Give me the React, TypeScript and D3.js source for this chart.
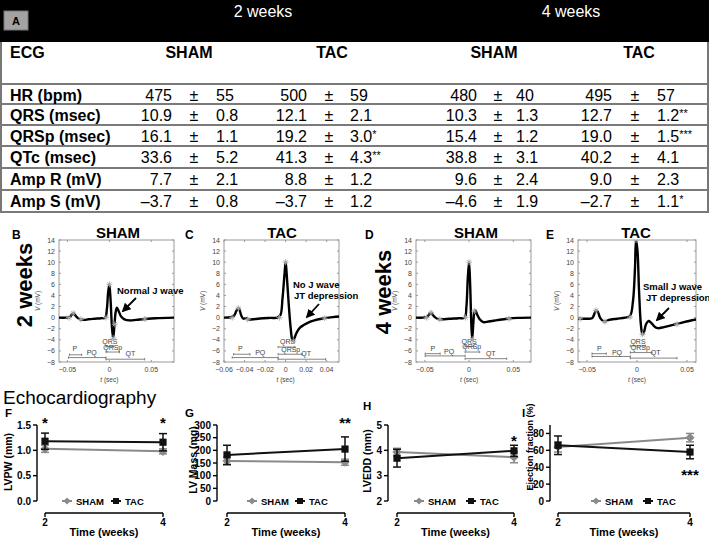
import React from 'react';
import * as d3 from 'd3';

const FONT = "Arial, 'Liberation Sans', Helvetica, sans-serif";

// ---------------- Table data ----------------
const rowLabels = ['HR (bpm)', 'QRS (msec)', 'QRSp (msec)', 'QTc (msec)', 'Amp R (mV)', 'Amp S (mV)'];
const rowDecimals = [0, 1, 1, 1, 1, 1];
const groupLabels = ['SHAM', 'TAC', 'SHAM', 'TAC'];
const weekLabels = ['2 weeks', '4 weeks'];
const sham2Mean = [475, 10.9, 16.1, 33.6, 7.7, -3.7];
const sham2Sd = [55, 0.8, 1.1, 5.2, 2.1, 0.8];
const sham2Sig = ['', '', '', '', '', ''];
const tac2Mean = [500, 12.1, 19.2, 41.3, 8.8, -3.7];
const tac2Sd = [59, 2.1, 3.0, 4.3, 1.2, 1.2];
const tac2Sig = ['', '', '*', '**', '', ''];
const sham4Mean = [480, 10.3, 15.4, 38.8, 9.6, -4.6];
const sham4Sd = [40, 1.3, 1.2, 3.1, 2.4, 1.9];
const sham4Sig = ['', '', '', '', '', ''];
const tac4Mean = [495, 12.7, 19.0, 40.2, 9.0, -2.7];
const tac4Sd = [57, 1.2, 1.5, 4.1, 2.3, 1.1];
const tac4Sig = ['', '**', '***', '', '', '*'];

// ---------------- ECG traces [t (sec), V (mV)] ----------------
type Pt = [number, number];
const ecgSham2: Pt[] = [
  [-0.060, 0.0], [-0.052, 0.0], [-0.047, 0.1], [-0.045, 0.5], [-0.043, 0.8], [-0.041, 0.5], [-0.038, 0.0],
  [-0.035, -0.3], [-0.030, -0.4], [-0.025, -0.3], [-0.018, -0.2], [-0.010, -0.1], [-0.005, 0.0],
  [-0.003, 1.5], [-0.0015, 4.5], [0.0, 6.0], [0.0015, 3.0], [0.003, -1.5], [0.0045, -3.7], [0.006, -1.5],
  [0.0075, 1.0], [0.009, 1.8], [0.011, 1.2], [0.014, 0.2], [0.018, -0.3], [0.024, -0.5], [0.032, -0.4],
  [0.042, -0.25], [0.055, -0.1], [0.077, 0.0],
];
const ecgTac2: Pt[] = [
  [-0.060, 0.0], [-0.053, 0.1], [-0.050, 0.4], [-0.048, 1.2], [-0.046, 1.7], [-0.045, 1.5], [-0.043, 0.3],
  [-0.041, -0.2], [-0.038, -0.1], [-0.036, -0.35], [-0.032, -0.3], [-0.025, -0.15], [-0.015, -0.05],
  [-0.008, 0.0], [-0.005, 0.5], [-0.003, 3.5], [-0.001, 8.0], [0.0, 10.0], [0.001, 8.0], [0.003, 2.5],
  [0.005, -2.0], [0.0065, -4.0], [0.0075, -4.2], [0.009, -3.5], [0.011, -2.6], [0.014, -1.8],
  [0.018, -1.3], [0.022, -0.9], [0.028, -0.5], [0.035, -0.2], [0.042, 0.0], [0.052, 0.2],
];
const ecgSham4: Pt[] = [
  [-0.060, 0.0], [-0.052, 0.0], [-0.047, 0.2], [-0.045, 0.6], [-0.043, 0.9], [-0.041, 0.5], [-0.038, 0.0],
  [-0.034, -0.3], [-0.030, -0.3], [-0.022, -0.2], [-0.012, -0.1], [-0.005, 0.0], [-0.003, 2.0],
  [-0.0015, 7.0], [0.0, 10.0], [0.0012, 6.0], [0.0025, -1.0], [0.0035, -3.9], [0.0048, -1.0],
  [0.006, 1.0], [0.0072, 1.3], [0.009, 0.6], [0.012, -0.3], [0.016, -0.8], [0.022, -0.7],
  [0.032, -0.45], [0.043, -0.2], [0.055, -0.05], [0.070, 0.0],
];
const ecgTac4: Pt[] = [
  [-0.060, -0.2], [-0.050, -0.2], [-0.045, -0.1], [-0.043, 0.5], [-0.041, 1.3], [-0.039, 1.0],
  [-0.037, 0.0], [-0.034, -0.6], [-0.032, -0.7], [-0.028, -0.4], [-0.020, -0.2], [-0.012, 0.0],
  [-0.007, 0.3], [-0.004, 3.0], [-0.002, 9.0], [-0.001, 14.0], [0.0005, 12.0], [0.002, 5.0],
  [0.004, -1.5], [0.0055, -3.0], [0.007, -2.6], [0.009, -1.2], [0.0115, -0.6], [0.014, -0.9],
  [0.018, -1.7], [0.021, -1.9], [0.027, -1.7], [0.034, -1.4], [0.043, -1.0], [0.052, -0.6], [0.060, -0.3],
];
const marksSham2: Pt[] = [[-0.048, 0], [-0.043, 0.8], [-0.034, -0.3], [-0.004, 0], [0, 6], [0.0045, -3.7], [0.0065, -1.2], [0.042, -0.25]];
const marksTac2: Pt[] = [[-0.052, 0], [-0.046, 1.7], [-0.037, -0.3], [-0.006, 0], [0, 10], [0.0075, -4.2], [0.038, -0.1]];
const marksSham4: Pt[] = [[-0.048, 0], [-0.043, 0.9], [-0.033, -0.3], [-0.004, 0], [0, 10], [0.0035, -3.9], [0.006, 1.2], [0.045, -0.2]];
const marksTac4: Pt[] = [[-0.057, -0.2], [-0.041, 1.3], [-0.032, -0.7], [-0.007, 0.1], [-0.001, 14], [0.0055, -3], [0.04, -1.2]];

type Ann = { label: string; t0: number; t1: number; v: number; lt: number; lv: number };
const annSham2: Ann[] = [
  { label: 'P', t0: -0.0476, t1: -0.033, v: -6.7, lt: -0.041, lv: -6.1 },
  { label: 'PQ', t0: -0.0488, t1: -0.004, v: -7.2, lt: -0.021, lv: -6.8 },
  { label: 'QRS', t0: -0.004, t1: 0.005, v: -5.2, lt: 0.0005, lv: -4.8 },
  { label: 'QRSp', t0: -0.004, t1: 0.012, v: -6.2, lt: 0.004, lv: -5.8 },
  { label: 'QT', t0: -0.004, t1: 0.042, v: -7.5, lt: 0.025, lv: -6.9 },
];
const annTac2: Ann[] = [
  { label: 'P', t0: -0.0507, t1: -0.0347, v: -6.6, lt: -0.044, lv: -6.1 },
  { label: 'PQ', t0: -0.052, t1: -0.0073, v: -7.2, lt: -0.0247, lv: -6.8 },
  { label: 'QRS', t0: -0.0073, t1: 0.009, v: -5.3, lt: 0.002, lv: -4.8 },
  { label: 'QRSp', t0: -0.0073, t1: 0.016, v: -6.6, lt: 0.005, lv: -6.2 },
  { label: 'QT', t0: -0.0073, t1: 0.039, v: -7.5, lt: 0.02, lv: -7.0 },
];
const annSham4: Ann[] = [
  { label: 'P', t0: -0.0496, t1: -0.0327, v: -6.5, lt: -0.041, lv: -6.0 },
  { label: 'PQ', t0: -0.0496, t1: -0.0045, v: -6.9, lt: -0.0226, lv: -6.6 },
  { label: 'QRS', t0: -0.0045, t1: 0.005, v: -5.2, lt: 0.0, lv: -4.7 },
  { label: 'QRSp', t0: -0.0045, t1: 0.012, v: -6.2, lt: 0.003, lv: -5.7 },
  { label: 'QT', t0: -0.0045, t1: 0.0425, v: -7.4, lt: 0.0245, lv: -6.9 },
];
const annTac4: Ann[] = [
  { label: 'P', t0: -0.045, t1: -0.0307, v: -6.5, lt: -0.0377, lv: -6.0 },
  { label: 'PQ', t0: -0.045, t1: -0.0067, v: -7.0, lt: -0.02, lv: -6.7 },
  { label: 'QRS', t0: -0.0067, t1: 0.0083, v: -5.1, lt: 0.001, lv: -4.7 },
  { label: 'QRSp', t0: -0.0067, t1: 0.015, v: -6.3, lt: 0.0033, lv: -5.8 },
  { label: 'QT', t0: -0.0067, t1: 0.04, v: -7.3, lt: 0.0187, lv: -6.8 },
];
const ecgYTicks = [-8, -6, -4, -2, 0, 2, 4, 6, 8, 10, 12, 14];

// ---------------- Echocardiography data ----------------
const weeks = [2, 4];
const lvpwSham = [1.03, 0.98];
const lvpwShamErr = [0.07, 0.05];
const lvpwTac = [1.18, 1.16];
const lvpwTacErr = [0.16, 0.17];
const lvMassSham = [158, 153];
const lvMassShamErr = [15, 12];
const lvMassTac = [182, 205];
const lvMassTacErr = [38, 48];
const lveddSham = [3.93, 3.73];
const lveddShamErr = [0.15, 0.22];
const lveddTac = [3.69, 3.98];
const lveddTacErr = [0.35, 0.22];
const efSham = [64, 75];
const efShamErr = [6, 5];
const efTac = [66, 58];
const efTacErr = [11, 8];

const GRAY = '#8a8a8a';
const BLACK = '#111';

// ---------------- Components ----------------
function Table() {
  const groups = [
    { mean: sham2Mean, sd: sham2Sd, sig: sham2Sig, end: 172, pm: 194, sdx: 216, hx: 189 },
    { mean: tac2Mean, sd: tac2Sd, sig: tac2Sig, end: 307, pm: 329, sdx: 350, hx: 332 },
    { mean: sham4Mean, sd: sham4Sd, sig: sham4Sig, end: 477, pm: 498, sdx: 516, hx: 494 },
    { mean: tac4Mean, sd: tac4Sd, sig: tac4Sig, end: 612, pm: 635, sdx: 657, hx: 639 },
  ];
  const lines = [84, 104, 125, 146, 168, 190, 212];
  const fmt = (v: number, d: number) => (v < 0 ? '–' : '') + Math.abs(v).toFixed(d);
  return (
    <g fontFamily={FONT}>
      <rect x={0} y={0} width={709} height={42} fill="#000" />
      <rect x={4} y={11} width={24} height={19} fill="#a3a3a3" stroke="#777" strokeWidth={1} />
      <text x={16} y={25} fontSize={11} fontWeight="bold" textAnchor="middle">A</text>
      <text x={263} y={17} fontSize={16} fill="#fff" textAnchor="middle">{weekLabels[0]}</text>
      <text x={571} y={17} fontSize={16} fill="#fff" textAnchor="middle">{weekLabels[1]}</text>
      <line x1={1} x2={1} y1={42} y2={213} stroke="#777" strokeWidth={2} />
      <line x1={708} x2={708} y1={42} y2={213} stroke="#777" strokeWidth={2} />
      {lines.map((ly, i) => (
        <line key={i} x1={0} x2={709} y1={ly} y2={ly} stroke="#7a7a7a" strokeWidth={2} />
      ))}
      <text x={10} y={58} fontSize={16} fontWeight="bold">ECG</text>
      {groups.map((g, gi) => (
        <text key={gi} x={g.hx} y={58} fontSize={16} fontWeight="bold" textAnchor="middle">{groupLabels[gi]}</text>
      ))}
      {rowLabels.map((lab, ri) => {
        const by = lines[ri] + 16.5;
        return (
          <g key={ri}>
            <text x={10} y={by} fontSize={16} fontWeight="bold">{lab}</text>
            {groups.map((g, gi) => (
              <g key={gi} fontSize={16}>
                <text x={g.end} y={by} textAnchor="end">{fmt(g.mean[ri], rowDecimals[ri])}</text>
                <text x={g.pm} y={by} textAnchor="middle">±</text>
                <text x={g.sdx} y={by}>
                  {fmt(g.sd[ri], rowDecimals[ri])}
                  {g.sig[ri] ? <tspan fontSize={11} dy={-4}>{g.sig[ri]}</tspan> : null}
                </text>
              </g>
            ))}
          </g>
        );
      })}
    </g>
  );
}

type EcgCfg = {
  letter: string; lx: number; title: string; tx: number; x0: number; x1: number;
  dom: [number, number]; ticks: number[]; data: Pt[]; marks: Pt[]; ann: Ann[];
  note?: { lines: { text: string; x: number; y: number }[]; arrow: [number, number, number, number] };
};

function EcgPanel({ c, id }: { c: EcgCfg; id: string }) {
  const top = 240, bottom = 362;
  const x = d3.scaleLinear().domain(c.dom).range([c.x0, c.x1]);
  const y = d3.scaleLinear().domain([-8, 14]).range([bottom, top]);
  const line = d3.line<Pt>().x(d => x(d[0])).y(d => y(d[1])).curve(d3.curveCatmullRom.alpha(0.5));
  const tfmt = (v: number) => (v === 0 ? '0' : (v < 0 ? '−' : '') + Math.abs(v).toFixed(2));
  const star = (px: number, py: number, k: number) => {
    const r = 3;
    return (
      <g key={k} stroke="#aaa" strokeWidth={0.9}>
        <line x1={px - r} x2={px + r} y1={py} y2={py} />
        <line x1={px} x2={px} y1={py - r} y2={py + r} />
        <line x1={px - r * 0.7} x2={px + r * 0.7} y1={py - r * 0.7} y2={py + r * 0.7} />
        <line x1={px - r * 0.7} x2={px + r * 0.7} y1={py + r * 0.7} y2={py - r * 0.7} />
      </g>
    );
  };
  const xc = x(0);
  return (
    <g fontFamily={FONT}>
      <defs>
        <clipPath id={id}><rect x={c.x0} y={top} width={c.x1 - c.x0} height={bottom - top} /></clipPath>
        <marker id={id + 'arr'} viewBox="0 0 10 10" refX={8} refY={5} markerWidth={5} markerHeight={5} orient="auto">
          <path d="M0,0 L10,5 L0,10 z" fill="#000" />
        </marker>
      </defs>
      <text x={c.lx} y={239} fontSize={12} fontWeight="bold">{c.letter}</text>
      <text x={c.tx} y={238} fontSize={15} fontWeight="bold" textAnchor="middle">{c.title}</text>
      <rect x={c.x0} y={top} width={c.x1 - c.x0} height={bottom - top} fill="#fff" stroke="#9a9a9a" strokeWidth={1} />
      {ecgYTicks.map(t => (
        <g key={'y' + t}>
          <line x1={c.x0} x2={c.x0 + 2} y1={y(t)} y2={y(t)} stroke="#9a9a9a" />
          <line x1={c.x1} x2={c.x1 - 2} y1={y(t)} y2={y(t)} stroke="#9a9a9a" />
          <text x={c.x0 - 4} y={y(t) + 2.5} fontSize={7} fill="#444" textAnchor="end">{t < 0 ? '−' + Math.abs(t) : t}</text>
        </g>
      ))}
      {c.ticks.map(t => (
        <g key={'x' + t}>
          <line x1={x(t)} x2={x(t)} y1={bottom} y2={bottom - 2} stroke="#9a9a9a" />
          <line x1={x(t)} x2={x(t)} y1={top} y2={top + 2} stroke="#9a9a9a" />
          <text x={x(t)} y={372} fontSize={7} fill="#444" textAnchor="middle">{tfmt(t)}</text>
        </g>
      ))}
      <text x={xc} y={382} fontSize={6.5} fill="#444" textAnchor="middle"><tspan fontStyle="italic">t</tspan> (sec)</text>
      <text transform={`translate(${c.x0 - 19},${y(3)}) rotate(-90)`} fontSize={6.5} fill="#444" textAnchor="middle">
        <tspan fontStyle="italic">V</tspan> (mV)
      </text>
      {c.ann.map((a, i) => (
        <g key={'a' + i} stroke="#666" strokeWidth={0.8}>
          <line x1={x(a.t0)} x2={x(a.t1)} y1={y(a.v)} y2={y(a.v)} />
          <line x1={x(a.t0)} x2={x(a.t0)} y1={y(a.v) - 1.2} y2={y(a.v) + 1.2} />
          <line x1={x(a.t1)} x2={x(a.t1)} y1={y(a.v) - 1.2} y2={y(a.v) + 1.2} />
          <text x={x(a.lt)} y={y(a.lv)} fontSize={7} fill="#444" stroke="none" textAnchor="middle">{a.label}</text>
        </g>
      ))}
      <g clipPath={`url(#${id})`}>
        <path d={line(c.data) || ''} fill="none" stroke="#000" strokeWidth={2.4} strokeLinejoin="round" />
        {c.marks.map((m, i) => star(x(m[0]), y(m[1]), i))}
      </g>
      {c.note ? (
        <g>
          {c.note.lines.map((l, i) => (
            <text key={i} x={l.x} y={l.y} fontSize={9.5} fontWeight="bold">{l.text}</text>
          ))}
          <line x1={c.note.arrow[0]} y1={c.note.arrow[1]} x2={c.note.arrow[2]} y2={c.note.arrow[3]}
            stroke="#000" strokeWidth={1.8} markerEnd={`url(#${id}arr)`} />
        </g>
      ) : null}
    </g>
  );
}

type EchoCfg = {
  letter: string; lx: number; ly: number; ax: number; x2: number; x4: number;
  yDom: [number, number]; yTicks: number[]; dec: number; ylabel: string; ylx: number; yly: number; ylSize: number;
  sham: number[]; shamErr: number[]; tac: number[]; tacErr: number[];
  stars: { w: number; y: number; text: string }[];
  leg: [number, number];
};

function EchoPanel({ c }: { c: EchoCfg }) {
  const x = d3.scaleLinear().domain([2, 4]).range([c.x2, c.x4]);
  const y = d3.scaleLinear().domain(c.yDom).range([501, 425]);
  const line = d3.line<number>().x((_, i) => x(weeks[i])).y(d => y(d));
  const series = [
    { v: c.sham, e: c.shamErr, col: GRAY, shape: 'diamond' },
    { v: c.tac, e: c.tacErr, col: BLACK, shape: 'square' },
  ];
  const marker = (px: number, py: number, shape: string, col: string, s = 3.6) =>
    shape === 'square'
      ? <rect x={px - s} y={py - s} width={2 * s} height={2 * s} fill={col} />
      : <path d={`M${px},${py - s - 1} L${px + s + 1},${py} L${px},${py + s + 1} L${px - s - 1},${py} Z`} fill={col} />;
  const yTop = y(c.yDom[1]);
  return (
    <g fontFamily={FONT} fontWeight="bold">
      <text x={c.lx} y={c.ly} fontSize={11.5}>{c.letter}</text>
      <line x1={c.ax} x2={c.ax} y1={yTop} y2={501} stroke="#000" strokeWidth={1.4} />
      {c.yTicks.map(t => (
        <g key={t}>
          <line x1={c.ax - 4} x2={c.ax} y1={y(t)} y2={y(t)} stroke="#000" strokeWidth={1.4} />
          <text x={c.ax - 6} y={y(t) + 3.5} fontSize={10} textAnchor="end">{t.toFixed(c.dec)}</text>
        </g>
      ))}
      <text transform={`translate(${c.ylx},${c.yly}) rotate(-90)`} fontSize={c.ylSize} textAnchor="middle">{c.ylabel}</text>
      <line x1={c.x2} x2={c.x4} y1={513} y2={513} stroke="#000" strokeWidth={1.4} />
      {weeks.map(w => (
        <g key={w}>
          <line x1={x(w)} x2={x(w)} y1={513} y2={517} stroke="#000" strokeWidth={1.4} />
          <text x={x(w)} y={526} fontSize={10} textAnchor="middle">{w}</text>
        </g>
      ))}
      <text x={(c.x2 + c.x4) / 2} y={536} fontSize={11} textAnchor="middle">Time (weeks)</text>
      {series.map((s, si) => (
        <g key={si}>
          <path d={line(s.v) || ''} fill="none" stroke={s.col} strokeWidth={2} />
          {s.v.map((v, i) => (
            <g key={i}>
              <line x1={x(weeks[i])} x2={x(weeks[i])} y1={y(v - s.e[i])} y2={y(v + s.e[i])} stroke={s.col} strokeWidth={1.5} />
              <line x1={x(weeks[i]) - 4} x2={x(weeks[i]) + 4} y1={y(v + s.e[i])} y2={y(v + s.e[i])} stroke={s.col} strokeWidth={1.5} />
              <line x1={x(weeks[i]) - 4} x2={x(weeks[i]) + 4} y1={y(v - s.e[i])} y2={y(v - s.e[i])} stroke={s.col} strokeWidth={1.5} />
              {marker(x(weeks[i]), y(v), s.shape, s.col)}
            </g>
          ))}
        </g>
      ))}
      {c.stars.map((s, i) => (
        <text key={i} x={x(s.w)} y={s.y} fontSize={15} textAnchor="middle">{s.text}</text>
      ))}
      <g>
        <line x1={c.leg[0] - 5} x2={c.leg[0] + 5} y1={501} y2={501} stroke={GRAY} strokeWidth={2} />
        {marker(c.leg[0], 501, 'diamond', GRAY, 2.6)}
        <text x={c.leg[0] + 9} y={504.5} fontSize={9.5}>SHAM</text>
        <line x1={c.leg[1] - 5} x2={c.leg[1] + 5} y1={501} y2={501} stroke={BLACK} strokeWidth={2} />
        {marker(c.leg[1], 501, 'square', BLACK, 3)}
        <text x={c.leg[1] + 9} y={504.5} fontSize={9.5}>TAC</text>
      </g>
    </g>
  );
}

export default function App() {
  const ecgCfgs: EcgCfg[] = [
    {
      letter: 'B', lx: 12, title: 'SHAM', tx: 118, x0: 59, x1: 174, dom: [-0.06, 0.077], ticks: [-0.05, 0, 0.05],
      data: ecgSham2, marks: marksSham2, ann: annSham2,
      note: { lines: [{ text: 'Normal J wave', x: 117, y: 294 }], arrow: [136, 298, 123, 311] },
    },
    {
      letter: 'C', lx: 185, title: 'TAC', tx: 282, x0: 224, x1: 339, dom: [-0.06, 0.052],
      ticks: [-0.06, -0.04, -0.02, 0, 0.02, 0.04], data: ecgTac2, marks: marksTac2, ann: annTac2,
      note: { lines: [{ text: 'No J wave', x: 293, y: 288 }, { text: 'JT depression', x: 294, y: 299 }], arrow: [319, 304, 307, 317] },
    },
    {
      letter: 'D', lx: 365, title: 'SHAM', tx: 476, x0: 416, x1: 531, dom: [-0.06, 0.07], ticks: [-0.05, 0, 0.05],
      data: ecgSham4, marks: marksSham4, ann: annSham4,
    },
    {
      letter: 'E', lx: 546, title: 'TAC', tx: 636, x0: 578, x1: 696, dom: [-0.059, 0.059], ticks: [-0.05, 0, 0.05],
      data: ecgTac4, marks: marksTac4, ann: annTac4,
      note: { lines: [{ text: 'Small J wave', x: 643, y: 290 }, { text: 'JT depression', x: 646, y: 301 }], arrow: [669, 308, 657, 320] },
    },
  ];
  const echoCfgs: EchoCfg[] = [
    {
      letter: 'F', lx: 5, ly: 417, ax: 37, x2: 45, x4: 163, yDom: [0, 1.5], yTicks: [0, 0.5, 1, 1.5], dec: 1,
      ylabel: 'LVPW (mm)', ylx: 12, yly: 462, ylSize: 10.5,
      sham: lvpwSham, shamErr: lvpwShamErr, tac: lvpwTac, tacErr: lvpwTacErr,
      stars: [{ w: 2, y: 428, text: '*' }, { w: 4, y: 428, text: '*' }], leg: [67, 116],
    },
    {
      letter: 'G', lx: 185, ly: 417, ax: 217, x2: 227, x4: 345, yDom: [0, 300], yTicks: [0, 50, 100, 150, 200, 250, 300], dec: 0,
      ylabel: 'LV Mass (mg)', ylx: 197, yly: 460, ylSize: 10.5,
      sham: lvMassSham, shamErr: lvMassShamErr, tac: lvMassTac, tacErr: lvMassTacErr,
      stars: [{ w: 4, y: 428, text: '**' }], leg: [252, 300],
    },
    {
      letter: 'H', lx: 363, ly: 410, ax: 388, x2: 397, x4: 514, yDom: [2, 5], yTicks: [2, 3, 4, 5], dec: 0,
      ylabel: 'LVEDD (mm)', ylx: 371, yly: 461, ylSize: 10.5,
      sham: lveddSham, shamErr: lveddShamErr, tac: lveddTac, tacErr: lveddTacErr,
      stars: [{ w: 4, y: 446, text: '*' }], leg: [419, 471],
    },
    {
      letter: 'I', lx: 522, ly: 417, ax: 550, x2: 558, x4: 690, yDom: [0, 90], yTicks: [0, 20, 40, 60, 80], dec: 0,
      ylabel: 'Ejection fraction (%)', ylx: 533, yly: 447, ylSize: 9,
      sham: efSham, shamErr: efShamErr, tac: efTac, tacErr: efTacErr,
      stars: [{ w: 4, y: 480, text: '***' }], leg: [596, 648],
    },
  ];
  return (
    <svg width={709} height={538} viewBox="0 0 709 538" style={{ position: 'absolute', left: 0, top: 0, background: '#fff' }}>
      <rect width={709} height={538} fill="#fff" />
      <Table />
      <text transform="translate(32,285) rotate(-90)" fontFamily={FONT} fontSize={22} fontWeight="bold" textAnchor="middle">2 weeks</text>
      <text transform="translate(391,292) rotate(-90)" fontFamily={FONT} fontSize={22} fontWeight="bold" textAnchor="middle">4 weeks</text>
      {ecgCfgs.map((c, i) => <EcgPanel key={i} c={c} id={'ecg' + i} />)}
      <text x={3} y={404} fontFamily={FONT} fontSize={19}>Echocardiography</text>
      {echoCfgs.map((c, i) => <EchoPanel key={i} c={c} />)}
    </svg>
  );
}
